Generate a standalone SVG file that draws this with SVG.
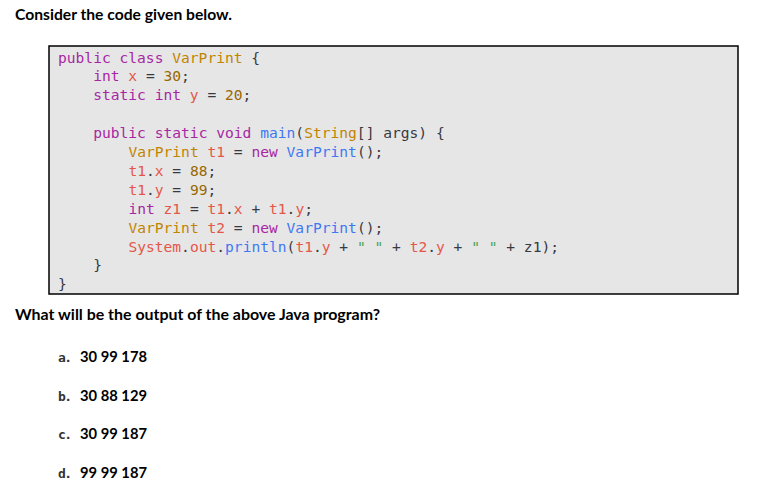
<svg xmlns="http://www.w3.org/2000/svg" width="769" height="497" viewBox="0 0 769 497">
<style>
.q{font-family:Lato,"Liberation Sans",sans-serif;font-weight:bold;font-size:15px;fill:#000}
.opt{font-family:"DejaVu Sans Mono","Liberation Mono",monospace;font-weight:bold;font-size:13px;fill:#333;letter-spacing:-1.5px}
.ans{font-family:Lato,"Liberation Sans",sans-serif;font-weight:bold;font-size:14.5px;fill:#000}
.code{font-family:"DejaVu Sans Mono","Liberation Mono",monospace;font-size:14.6px;fill:#383a42}
.k{fill:#a626a4}.t{fill:#c18401}.v{fill:#e45649}.n{fill:#986801}.f{fill:#4078f2}.s{fill:#50a14f}
</style>
<rect width="769" height="497" fill="#fff"/>
<g id="title"><text class="q" x="15" y="19.5" textLength="217" lengthAdjust="spacingAndGlyphs">Consider the code given below.</text></g>
<g id="code-box">
<rect x="49" y="46" width="689" height="248" fill="#e6e6e6" stroke="#000" stroke-width="1.5"/>
<g class="code" xml:space="preserve">
<text x="58" y="62.5"><tspan class="k">public</tspan> <tspan class="k">class</tspan> <tspan class="t">VarPrint</tspan> {</text>
<text x="93.2" y="81.4"><tspan class="k">int</tspan> <tspan class="v">x</tspan> = <tspan class="n">30</tspan>;</text>
<text x="93.2" y="100.3"><tspan class="k">static</tspan> <tspan class="k">int</tspan> <tspan class="v">y</tspan> = <tspan class="n">20</tspan>;</text>
<text x="93.2" y="138.1"><tspan class="k">public</tspan> <tspan class="k">static</tspan> <tspan class="k">void</tspan> <tspan class="f">main</tspan>(<tspan class="t">String</tspan>[] args) {</text>
<text x="128.4" y="157"><tspan class="t">VarPrint</tspan> <tspan class="v">t1</tspan> = <tspan class="k">new</tspan> <tspan class="f">VarPrint</tspan>();</text>
<text x="128.4" y="175.9"><tspan class="v">t1</tspan>.<tspan class="v">x</tspan> = <tspan class="n">88</tspan>;</text>
<text x="128.4" y="194.8"><tspan class="v">t1</tspan>.<tspan class="v">y</tspan> = <tspan class="n">99</tspan>;</text>
<text x="128.4" y="213.7"><tspan class="k">int</tspan> <tspan class="v">z1</tspan> = <tspan class="v">t1</tspan>.<tspan class="v">x</tspan> + <tspan class="v">t1</tspan>.<tspan class="v">y</tspan>;</text>
<text x="128.4" y="232.6"><tspan class="t">VarPrint</tspan> <tspan class="v">t2</tspan> = <tspan class="k">new</tspan> <tspan class="f">VarPrint</tspan>();</text>
<text x="128.4" y="251.5"><tspan class="v">System</tspan>.<tspan class="v">out</tspan>.<tspan class="f">println</tspan>(<tspan class="v">t1</tspan>.<tspan class="v">y</tspan> + <tspan class="s">" "</tspan> + <tspan class="v">t2</tspan>.<tspan class="v">y</tspan> + <tspan class="s">" "</tspan> + z1);</text>
<text x="93.2" y="270.4">}</text>
<text x="58" y="289.3">}</text>
</g>
</g>
<g id="question"><text class="q" x="15" y="320" textLength="365" lengthAdjust="spacingAndGlyphs">What will be the output of the above Java program?</text></g>
<g id="option-a"><text class="opt" x="58" y="361.7">a.</text><text class="ans" x="80" y="361.7" textLength="67" lengthAdjust="spacingAndGlyphs">30 99 178</text></g>
<g id="option-b"><text class="opt" x="58" y="400.7">b.</text><text class="ans" x="80" y="400.7" textLength="67" lengthAdjust="spacingAndGlyphs">30 88 129</text></g>
<g id="option-c"><text class="opt" x="58" y="439.3">c.</text><text class="ans" x="80" y="439.3" textLength="67" lengthAdjust="spacingAndGlyphs">30 99 187</text></g>
<g id="option-d"><text class="opt" x="58" y="477.7">d.</text><text class="ans" x="80" y="477.7" textLength="67" lengthAdjust="spacingAndGlyphs">99 99 187</text></g>
</svg>
